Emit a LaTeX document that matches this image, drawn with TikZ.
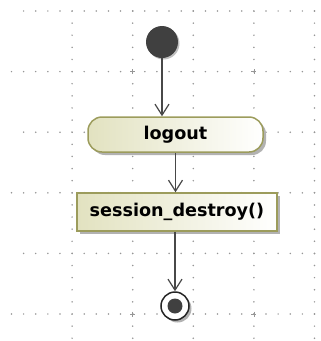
\documentclass[tikz,border=0pt]{standalone}
\usepackage{fontspec}
\setmainfont{DejaVu Sans}
\usetikzlibrary{arrows.meta,shadows}

\definecolor{actborder}{RGB}{156,156,92}
\definecolor{actfill}{RGB}{226,226,192}
\definecolor{flowline}{RGB}{72,72,72}
\definecolor{griddot}{RGB}{150,150,150}

\tikzset{
  activity/.style={draw=actborder, line width=1.5pt, left color=actfill, right color=white,
    minimum width=175pt, minimum height=35pt, rounded corners=14pt, inner sep=0pt,
    font=\fontsize{17.6}{20}\selectfont\bfseries,
    drop shadow={shadow xshift=3pt, shadow yshift=-3pt, fill=black!30, opacity=1}},
  action/.style={activity, rounded corners=0pt, minimum width=200pt, minimum height=38pt},
  initial/.style={circle, fill=black!75, minimum size=32pt, inner sep=0pt,
    drop shadow={shadow xshift=1.5pt, shadow yshift=-1.5pt, fill=black!25, opacity=1}},
  final/.style={circle, draw=black!85, line width=1.5pt, fill=white, minimum size=28pt, inner sep=0pt,
    drop shadow={shadow xshift=2.5pt, shadow yshift=-2.5pt, fill=black!30, opacity=1}},
  finaldot/.style={circle, fill=black!75, minimum size=15pt, inner sep=0pt},
  flow/.style={draw=flowline, line width=1.2pt, -{Straight Barb[length=11pt,width=14pt,line width=1.2pt]}},
  gridmark/.style={draw=griddot, line width=0.8pt}
}

\begin{document}
\begin{tikzpicture}[x=1pt,y=-1pt]
\useasboundingbox (0,0) rectangle (321,341);

\foreach \r/\s in {0/1, 5/0, 10/1, 15/0, 20/1, 25/0}
  \foreach \c in {\s,...,25}
    \fill[griddot] ({11.5+12.12*\c},{11+12.12*\r}) circle (0.85pt);
\foreach \c in {5,10,...,25}
  \foreach \r in {0,...,27}
    \fill[griddot] ({11.5+12.12*\c},{11+12.12*\r}) circle (0.85pt);
\foreach \c/\r in {10/5, 20/5, 10/25, 20/25}
  \draw[gridmark] ({11.5+12.12*\c-2.5},{11+12.12*\r}) -- ++(5,0)
                  ({11.5+12.12*\c},{11+12.12*\r-2.5}) -- ++(0,5);

\node[initial] (start) at (162,42) {};
\node[activity] (logout) at (175.5,134.5) {logout};
\node[action] (destroy) at (177,212) {session\_destroy()};
\node[final] (end) at (175,306) {};
\node[finaldot] (enddot) at (end.center) {};

\draw[flow] (start) -- (start |- logout.north);
\draw[flow] (logout.south) -- (logout.south |- destroy.north);
\draw[flow] (end |- destroy.south) -- (end.north);
\end{tikzpicture}
\end{document}
